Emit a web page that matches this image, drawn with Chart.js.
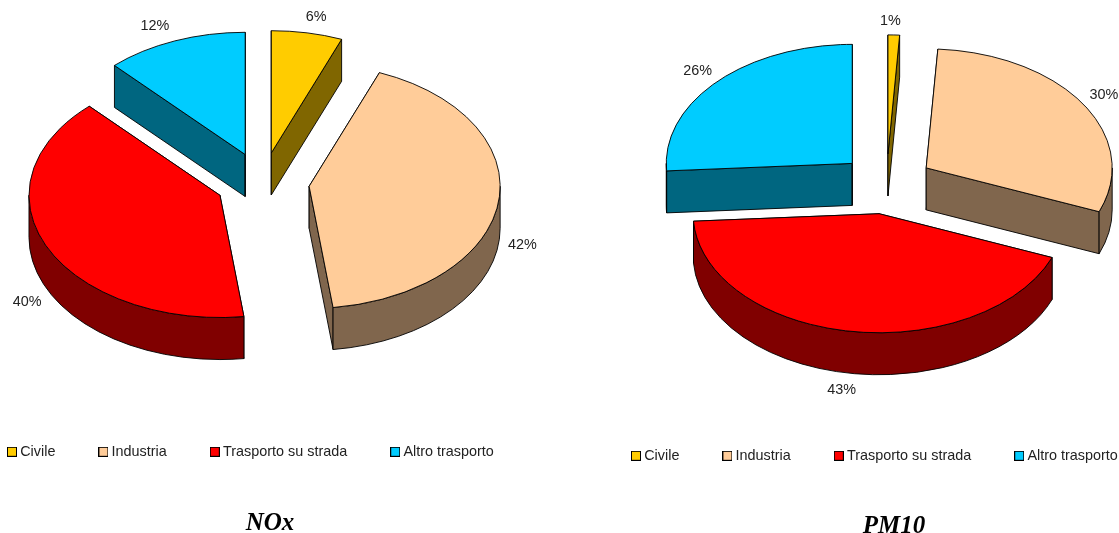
<!DOCTYPE html>
<html>
<head>
<meta charset="utf-8">
<title>NOx / PM10</title>
<script src="https://cdn.jsdelivr.net/npm/chart.js@4"></script>
<style>
    html, body { margin: 0; padding: 0; background: #fff; }
    #page { position: relative; width: 1119px; height: 533px; overflow: hidden; }
    canvas { position: absolute; top: 0; }
    #noxChart { left: -36px; }
    #pmChart { left: 588px; }
</style>
</head>
<body>
<div id="page">
    <canvas id="noxChart" width="612" height="542"></canvas>
    <canvas id="pmChart" width="612" height="542"></canvas>
</div>
<script>
const categories = ['Civile', 'Industria', 'Trasporto su strada', 'Altro trasporto'];
const noxValues = [6, 42, 40, 12];
const pmValues = [1, 30, 43, 26];
const sliceColors = ['#FFCC00', '#FFCC99', '#FF0000', '#00CCFF'];
const wallColors = ['#806600', '#80664D', '#800000', '#006680'];

// Small legend square, handed to the legend as a point style
function swatch(color) {
    const c = document.createElement('canvas');
    c.width = 10;
    c.height = 10;
    const g = c.getContext('2d');
    g.fillStyle = color;
    g.fillRect(0, 0, 10, 10);
    g.strokeStyle = '#000';
    g.lineWidth = 1;
    g.strokeRect(0.5, 0.5, 9, 9);
    return c;
}

// Tilted pie with a side wall and pulled-out slices, built on the arcs the pie controller lays out
const tiltedPie = {
    id: 'tiltedPie',
    beforeDatasetDraw(chart, args, opts) {
        const { ctx } = chart;
        const { cx, cy, tilt, depth, burst, labelShift } = opts;
        const values = chart.data.datasets[args.index].data;

        const slices = args.meta.data.map((arc, i) => {
            const mid = (arc.startAngle + arc.endAngle) / 2;
            return {
                i, mid,
                a0: arc.startAngle,
                a1: arc.endAngle,
                r: arc.outerRadius,
                x: cx + Math.cos(mid) * burst,
                y: cy + Math.sin(mid) * burst * tilt,
            };
        }).sort((p, q) => p.y - q.y);

        ctx.save();
        ctx.lineWidth = 0.9;
        ctx.strokeStyle = '#000';
        ctx.lineJoin = 'round';

        slices.forEach(s => {
            const rx = s.r;
            const ry = s.r * tilt;
            const px = a => s.x + Math.cos(a) * rx;
            const py = a => s.y + Math.sin(a) * ry;

            // cut faces
            ctx.fillStyle = wallColors[s.i];
            [s.a0, s.a1].forEach(a => {
                ctx.beginPath();
                ctx.moveTo(s.x, s.y);
                ctx.lineTo(px(a), py(a));
                ctx.lineTo(px(a), py(a) + depth);
                ctx.lineTo(s.x, s.y + depth);
                ctx.closePath();
                ctx.fill();
                ctx.stroke();
            });

            // rim, only the part that faces the viewer
            const from = Math.max(s.a0, 0);
            const to = Math.min(s.a1, Math.PI);
            if (to > from) {
                ctx.beginPath();
                ctx.ellipse(s.x, s.y, rx, ry, 0, from, to);
                ctx.lineTo(px(to), py(to) + depth);
                ctx.ellipse(s.x, s.y + depth, rx, ry, 0, to, from, true);
                ctx.closePath();
                ctx.fill();
                ctx.stroke();
            }

            // top face
            ctx.fillStyle = sliceColors[s.i];
            ctx.beginPath();
            ctx.moveTo(s.x, s.y);
            ctx.ellipse(s.x, s.y, rx, ry, 0, s.a0, s.a1);
            ctx.closePath();
            ctx.fill();
            ctx.stroke();
        });

        // percentage labels outside the rim
        ctx.fillStyle = '#222';
        ctx.font = '14.4px "Liberation Sans", Arial, sans-serif';
        ctx.textAlign = 'center';
        ctx.textBaseline = 'middle';
        slices.forEach(s => {
            const cos = Math.cos(s.mid);
            const sin = Math.sin(s.mid);
            const shift = labelShift[s.i];
            const lx = s.x + cos * (s.r + 22) + shift[0];
            const ly = s.y + sin * (s.r * tilt + 18) + (sin > 0 ? depth : 0) + shift[1];
            ctx.fillText(values[s.i] + '%', lx, ly);
        });
        ctx.restore();
        return false;
    }
};

function drawPie(id, values, name, radius, cy, labelShift, titleTop, titleBottom) {
    new Chart(document.getElementById(id).getContext('2d'), {
        type: 'pie',
        data: {
            labels: categories,
            datasets: [{ data: values, backgroundColor: sliceColors }]
        },
        options: {
            responsive: false,
            animation: false,
            radius: radius,
            plugins: {
                tiltedPie: { cx: 298.5, cy: cy, tilt: 0.64, depth: 42, burst: 47, labelShift: labelShift },
                tooltip: { enabled: false },
                legend: {
                    position: 'bottom',
                    align: 'start',
                    labels: {
                        font: { family: '"Liberation Sans", Arial, sans-serif', size: 14.4 },
                        color: '#222',
                        padding: 47,
                        usePointStyle: true,
                        pointStyleWidth: 2,
                        boxHeight: 10,
                        generateLabels: () => categories.map((text, i) => ({
                            text: text,
                            index: i,
                            hidden: false,
                            fontColor: '#222',
                            pointStyle: swatch(sliceColors[i])
                        }))
                    }
                },
                title: {
                    display: true,
                    position: 'bottom',
                    text: name,
                    color: '#000',
                    font: { family: '"Liberation Serif", "Times New Roman", serif', size: 25, style: 'italic', weight: 'bold' },
                    padding: { top: titleTop, bottom: titleBottom }
                }
            }
        },
        plugins: [tiltedPie]
    });
}

drawPie('noxChart', noxValues, 'NOx', 191, 182.5, [[5, 2], [2, -1], [0, 5], [-12, 2]], 40, 3);
drawPie('pmChart', pmValues, 'PM10', 186, 184, [[-4, 4], [2, 1], [-5, -1], [-3, 1]], 39, 0);
</script>
</body>
</html>
